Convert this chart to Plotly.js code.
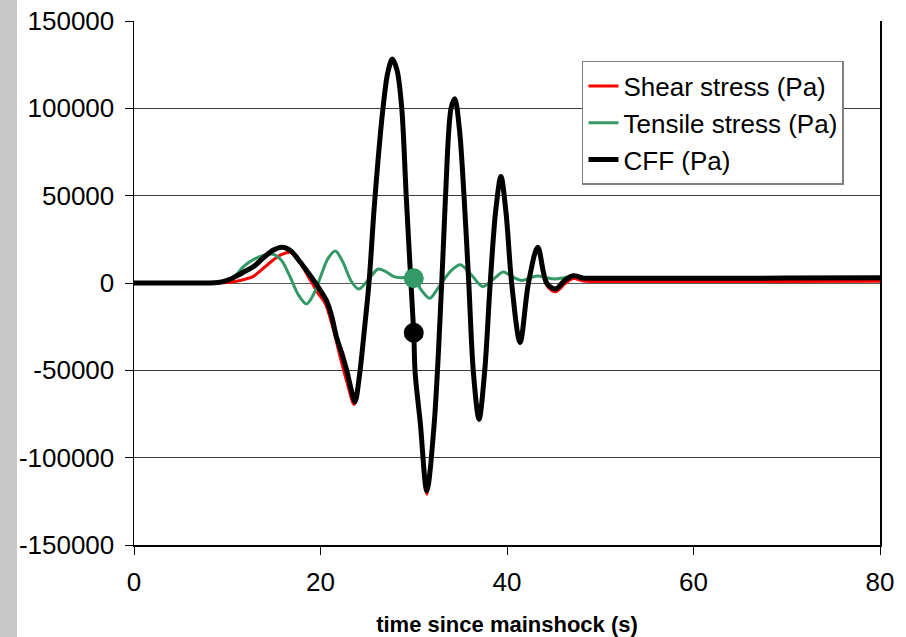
<!DOCTYPE html>
<html>
<head>
<meta charset="utf-8">
<script src="https://cdn.plot.ly/plotly-3.0.1.min.js"></script>
<style>
  html, body { margin: 0; padding: 0; background: #ffffff; }
  #chart { width: 906px; height: 637px; }
</style>
</head>
<body>
<div id="chart"></div>
<script>
// ---- Data ----
var shearTime = [0, 5, 9, 10, 11, 12, 12.8, 14, 15, 15.8, 16.8, 17.8, 18.9, 19.7, 20.5, 21.3, 22.1, 22.9, 23.6, 24.2, 24.7, 25.2, 25.8, 26.7, 27.2, 27.7, 28.2, 28.7, 29.2, 29.7, 30.0, 30.15, 30.7, 31.4, 32.2, 33.0, 33.4, 34.0, 34.4, 34.9, 35.4, 35.9, 36.4, 37.0, 37.6, 38.2, 38.8, 39.35, 39.9, 40.5, 41.4, 42.3, 43.3, 44.25, 45.2, 46.2, 47.1, 48.2, 50, 60, 70, 80];
var shearStress = [0, 0, 0, 300, 1000, 2300, 3800, 9000, 13500, 16200, 17500, 11500, 1700, -5500, -11600, -25000, -42200, -58000, -69500, -53000, -28000, -1000, 45000, 99000, 119000, 127000, 121500, 100500, 48500, -1000, -29500, -52500, -81000, -121000, -80500, -500, 48000, 99000, 104000, 86500, 48000, -500, -52000, -78500, -51000, -500, 41000, 59000, 38500, -800, -34500, -800, 19000, -1200, -5000, -500, 2500, 1200, 900, 900, 900, 1000];

var tensileTime = [0, 5, 9, 10, 11, 11.7, 13, 14.9, 15.8, 16.7, 17.6, 18.5, 19.3, 20.1, 20.8, 21.6, 22.4, 23.3, 24.1, 25.0, 26.2, 27.0, 27.9, 28.6, 29.3, 30.0, 30.8, 31.7, 32.4, 33.2, 34.1, 35.0, 36.2, 37.4, 38.5, 39.6, 40.6, 41.6, 42.5, 43.3, 44.2, 45.1, 46.1, 47.1, 48.5, 50, 60, 70, 80];
var tensileStress = [0, 0, 0, 1500, 5000, 9300, 14000, 16500, 13000, 4000, -6500, -12000, -6000, 5000, 14000, 18300, 12000, 1000, -3500, 1000, 8000, 6500, 3600, 3000, 3300, 2700, -4000, -8800, -4500, 1700, 7500, 10500, 4500, -2000, 2000, 6300, 3500, 1500, 3000, 4000, 3000, 2300, 3000, 4000, 3000, 2800, 2700, 2700, 2700];

var cffTime = [0, 5, 8, 9, 10, 11, 12, 12.8, 14, 15, 15.9, 16.8, 17.8, 18.8, 19.6, 20.2, 20.7, 21.2, 21.7, 22.3, 22.8, 23.3, 23.7, 24.2, 24.7, 25.2, 25.8, 26.7, 27.2, 27.7, 28.2, 28.7, 29.2, 29.7, 30.0, 30.15, 30.7, 31.4, 32.2, 33.0, 33.4, 34.0, 34.4, 34.9, 35.4, 35.9, 36.4, 37.0, 37.6, 38.2, 38.8, 39.35, 39.9, 40.5, 41.4, 42.3, 43.3, 44.25, 45.2, 46.2, 47.1, 48.2, 50, 60, 70, 80];
var cffStress = [0, 0, 0, 300, 1500, 4000, 7000, 9300, 15000, 19000, 20500, 18500, 12200, 5000, -1100, -6000, -10700, -19000, -30700, -40500, -49800, -61000, -68000, -52000, -27000, 0, 46000, 100000, 120000, 128300, 122000, 101000, 49000, 0, -28500, -51500, -80000, -119000, -80000, 0, 49000, 100000, 105500, 88000, 49000, 0, -51500, -78000, -51000, 0, 42000, 61000, 40000, 0, -34000, 0, 20500, 0, -3500, 1500, 4200, 2800, 2700, 2700, 2800, 3000];

var markerTime = [30];
var markerCFF = [-28500];
var markerTensile = [2700];

var seriesNames = ["Shear stress (Pa)", "Tensile stress (Pa)", "CFF (Pa)"];
var xTickVals = [0, 20, 40, 60, 80];
var yTickVals = [-150000, -100000, -50000, 0, 50000, 100000, 150000];
var yTickText = ["-150000", "-100000", "-50000", "0", "50000", "100000", "150000"];
var xTitle = "time since mainshock (s)";

// ---- Chart ----
var FONT = "Arial, 'Liberation Sans', sans-serif";
var traces = [
  { x: shearTime, y: shearStress, name: seriesNames[0], type: "scatter", mode: "lines",
    line: { color: "#ff0000", width: 3, shape: "spline", smoothing: 0.9 } },
  { x: tensileTime, y: tensileStress, name: seriesNames[1], type: "scatter", mode: "lines",
    line: { color: "#339966", width: 3, shape: "spline", smoothing: 0.9 } },
  { x: cffTime, y: cffStress, name: seriesNames[2], type: "scatter", mode: "lines",
    line: { color: "#000000", width: 5, shape: "spline", smoothing: 0.9 } },
  { x: markerTime, y: markerCFF, type: "scatter", mode: "markers", showlegend: false,
    marker: { color: "#000000", size: 20 } },
  { x: markerTime, y: markerTensile, type: "scatter", mode: "markers", showlegend: false,
    marker: { color: "#339966", size: 20 } }
];

var layout = {
  width: 906, height: 637,
  margin: { l: 134, r: 26, t: 21, b: 92 },
  paper_bgcolor: "#ffffff", plot_bgcolor: "#ffffff",
  font: { family: FONT, color: "#000000" },
  showlegend: true,
  legend: {
    x: 0.6005, y: 0.9237, xanchor: "left", yanchor: "top",
    bgcolor: "#ffffff", bordercolor: "#808080", borderwidth: 1.5,
    font: { family: FONT, size: 26, color: "#000000" },
    tracegroupgap: 0, itemwidth: 30
  },
  xaxis: {
    range: [0, 80], tickvals: xTickVals,
    ticks: "outside", ticklen: 8, tickcolor: "#000000", tickwidth: 1,
    ticklabelstandoff: 5,
    showline: true, linecolor: "#000000", linewidth: 2,
    showgrid: false, zeroline: false,
    tickfont: { family: FONT, size: 26, color: "#000000" },
    title: { text: xTitle, font: { family: FONT, size: 22, color: "#000000", weight: "bold" }, standoff: 23 }
  },
  yaxis: {
    range: [-150000, 150000], tickvals: yTickVals, ticktext: yTickText,
    ticks: "outside", ticklen: 8, tickcolor: "#000000", tickwidth: 1,
    ticklabelstandoff: 5,
    showline: true, mirror: true, linecolor: "#000000", linewidth: 1.5,
    showgrid: true, gridcolor: "#3c3c3c", gridwidth: 1,
    zeroline: true, zerolinecolor: "#5a5a5a", zerolinewidth: 1,
    tickfont: { family: FONT, size: 26, color: "#000000" }
  },
  shapes: [
    { type: "rect", xref: "paper", yref: "paper",
      x0: -0.1796, x1: -0.1568, y0: -0.18, y1: 1.045,
      fillcolor: "#c8c8c8", line: { width: 0 }, layer: "below" }
  ]
};

Plotly.newPlot("chart", traces, layout, { displayModeBar: false, staticPlot: true });
</script>
</body>
</html>
